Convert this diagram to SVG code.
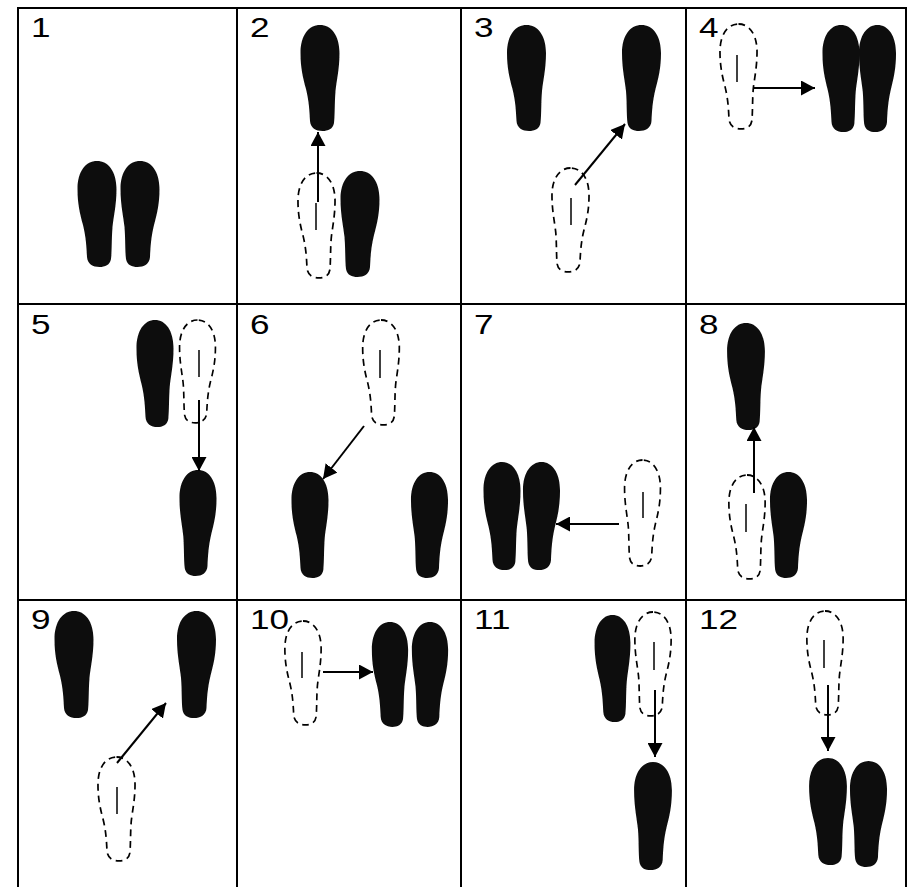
<svg xmlns="http://www.w3.org/2000/svg" xmlns:xlink="http://www.w3.org/1999/xlink" width="912" height="887" viewBox="0 0 912 887">
<style>
.grid{stroke:#000;stroke-width:2;fill:none}
.lbl{font-family:"Liberation Sans",Arial,sans-serif;font-size:27px;fill:#000}
.sole{fill:#111;filter:url(#soft)}
.ghost{fill:#fff;stroke:#000;stroke-width:1.8;stroke-dasharray:7 5}
.mid{stroke:#000;stroke-width:1.5}
.arr{stroke:#000;stroke-width:2;fill:none;marker-end:url(#head)}
</style>
<defs>
<filter id="soft" x="-20%" y="-10%" width="140%" height="120%"><feGaussianBlur stdDeviation="0.7"/></filter>
<path id="foot" d="M 0 0 C 11 0 19.5 10 19.5 28 C 19.5 44 16.5 56 15.5 66 C 14.5 78 15 90 14 98 C 13 104 8 106 2.5 106 C -4 106 -9.5 103 -10 96 C -10.5 86 -11 76 -14 64 C -17 53 -19.5 43 -19.5 28 C -19.5 10 -11 0 0 0 Z"/>
<marker id="head" markerUnits="userSpaceOnUse" markerWidth="15" markerHeight="15" refX="14" refY="7.5" orient="auto" viewBox="0 0 15 15"><path d="M0,0 L14,7.5 L0,15 Z" fill="#000"/></marker>
</defs>
<rect width="912" height="887" fill="#fff"/>
<g id="grid" class="grid">
<line x1="17" y1="8" x2="907" y2="8"/>
<line x1="17" y1="304" x2="907" y2="304"/>
<line x1="17" y1="600" x2="907" y2="600"/>
<line x1="18" y1="7" x2="18" y2="887"/>
<line x1="237" y1="7" x2="237" y2="887"/>
<line x1="461" y1="7" x2="461" y2="887"/>
<line x1="686" y1="7" x2="686" y2="887"/>
<line x1="906" y1="7" x2="906" y2="887"/>
</g>
<g id="panel1">
<text class="lbl" transform="translate(31,37) scale(1.3,1)">1</text>
<use href="#foot" class="sole" transform="translate(97,161)"/>
<use href="#foot" class="sole" transform="translate(140,161) scale(-1,1)"/>
</g>
<g id="panel2">
<text class="lbl" transform="translate(250,37) scale(1.3,1)">2</text>
<use href="#foot" class="sole" transform="translate(320,25)"/>
<use href="#foot" class="sole" transform="translate(360,171) scale(-1,1)"/>
<use href="#foot" class="ghost" transform="translate(316.5,173) scale(0.95,0.99)"/>
<line class="mid" x1="316" y1="203" x2="316" y2="230"/>
</g>
<g id="panel3">
<text class="lbl" transform="translate(474,37) scale(1.3,1)">3</text>
<use href="#foot" class="sole" transform="translate(526.5,25)"/>
<use href="#foot" class="sole" transform="translate(641.5,25) scale(-1,1)"/>
<use href="#foot" class="ghost" transform="translate(570.5,168) scale(-0.95,0.98)"/>
<line class="mid" x1="571" y1="198" x2="571" y2="225"/>
</g>
<g id="panel4">
<text class="lbl" transform="translate(699,37) scale(1.3,1)">4</text>
<use href="#foot" class="sole" transform="translate(841,25) scale(0.95,1.01)"/>
<use href="#foot" class="sole" transform="translate(877.5,25) scale(-0.95,1.01)"/>
<use href="#foot" class="ghost" transform="translate(738.5,24) scale(0.95,0.99)"/>
<line class="mid" x1="737" y1="55" x2="737" y2="82"/>
</g>
<g id="panel5">
<text class="lbl" transform="translate(31,334) scale(1.3,1)">5</text>
<use href="#foot" class="sole" transform="translate(155,320) scale(0.95,1.01)"/>
<use href="#foot" class="sole" transform="translate(198,470) scale(-0.95,1)"/>
<use href="#foot" class="ghost" transform="translate(197.5,320) scale(-0.92,0.97)"/>
<line class="mid" x1="199" y1="350" x2="199" y2="377"/>
</g>
<g id="panel6">
<text class="lbl" transform="translate(250,334) scale(1.3,1)">6</text>
<use href="#foot" class="sole" transform="translate(310,472) scale(0.95,1)"/>
<use href="#foot" class="sole" transform="translate(429.5,472) scale(-0.95,1)"/>
<use href="#foot" class="ghost" transform="translate(381,320) scale(0.94,0.99)"/>
<line class="mid" x1="380" y1="350" x2="380" y2="378"/>
</g>
<g id="panel7">
<text class="lbl" transform="translate(474,334) scale(1.3,1)">7</text>
<use href="#foot" class="sole" transform="translate(502,462) scale(0.95,1.02)"/>
<use href="#foot" class="sole" transform="translate(541.5,462) scale(-0.95,1.02)"/>
<use href="#foot" class="ghost" transform="translate(642.5,460) scale(-0.92,1)"/>
<line class="mid" x1="643" y1="492" x2="643" y2="518"/>
</g>
<g id="panel8">
<text class="lbl" transform="translate(699,334) scale(1.3,1)">8</text>
<use href="#foot" class="sole" transform="translate(746,323) scale(0.97,1.01)"/>
<use href="#foot" class="sole" transform="translate(788.5,472) scale(-0.95,1)"/>
<use href="#foot" class="ghost" transform="translate(747,475) scale(0.93,0.98)"/>
<line class="mid" x1="746" y1="504" x2="746" y2="532"/>
</g>
<g id="panel9">
<text class="lbl" transform="translate(31,629) scale(1.3,1)">9</text>
<use href="#foot" class="sole" transform="translate(74,611) scale(1,1.01)"/>
<use href="#foot" class="sole" transform="translate(196.5,611) scale(-1,1.01)"/>
<use href="#foot" class="ghost" transform="translate(116.5,757) scale(0.95,0.98)"/>
<line class="mid" x1="117" y1="787" x2="117" y2="814"/>
</g>
<g id="panel10">
<text class="lbl" transform="translate(250,629) scale(1.3,1)">10</text>
<use href="#foot" class="sole" transform="translate(390,622) scale(0.93,0.99)"/>
<use href="#foot" class="sole" transform="translate(430,622) scale(-0.93,0.99)"/>
<use href="#foot" class="ghost" transform="translate(303,621) scale(0.93,0.98)"/>
<line class="mid" x1="302" y1="652" x2="302" y2="678"/>
</g>
<g id="panel11">
<text class="lbl" transform="translate(474,629) scale(1.3,1)">11</text>
<use href="#foot" class="sole" transform="translate(612.5,615) scale(0.92,1.01)"/>
<use href="#foot" class="sole" transform="translate(653,762) scale(-0.97,1.02)"/>
<use href="#foot" class="ghost" transform="translate(653,612) scale(-0.93,0.98)"/>
<line class="mid" x1="654" y1="642" x2="654" y2="670"/>
</g>
<g id="panel12">
<text class="lbl" transform="translate(699,629) scale(1.3,1)">12</text>
<use href="#foot" class="sole" transform="translate(828,758) scale(0.97,1.01)"/>
<use href="#foot" class="sole" transform="translate(868.5,761) scale(-0.95,1)"/>
<use href="#foot" class="ghost" transform="translate(825,611) scale(0.93,0.98)"/>
<line class="mid" x1="824" y1="640" x2="824" y2="668"/>
</g>
<g id="connectors">
<line class="arr" x1="318" y1="202" x2="318" y2="132"/>
<line class="arr" x1="575" y1="185" x2="625" y2="124"/>
<line class="arr" x1="754" y1="88" x2="815" y2="88"/>
<line class="arr" x1="199" y1="400" x2="199" y2="471"/>
<line class="arr" x1="364" y1="426" x2="323" y2="479"/>
<line class="arr" x1="619" y1="524" x2="556" y2="524"/>
<line class="arr" x1="754" y1="493" x2="754" y2="427"/>
<line class="arr" x1="117" y1="763" x2="166" y2="703"/>
<line class="arr" x1="323" y1="672" x2="373" y2="672"/>
<line class="arr" x1="655" y1="690" x2="655" y2="757"/>
<line class="arr" x1="828" y1="685" x2="828" y2="751"/>
</g>
</svg>
